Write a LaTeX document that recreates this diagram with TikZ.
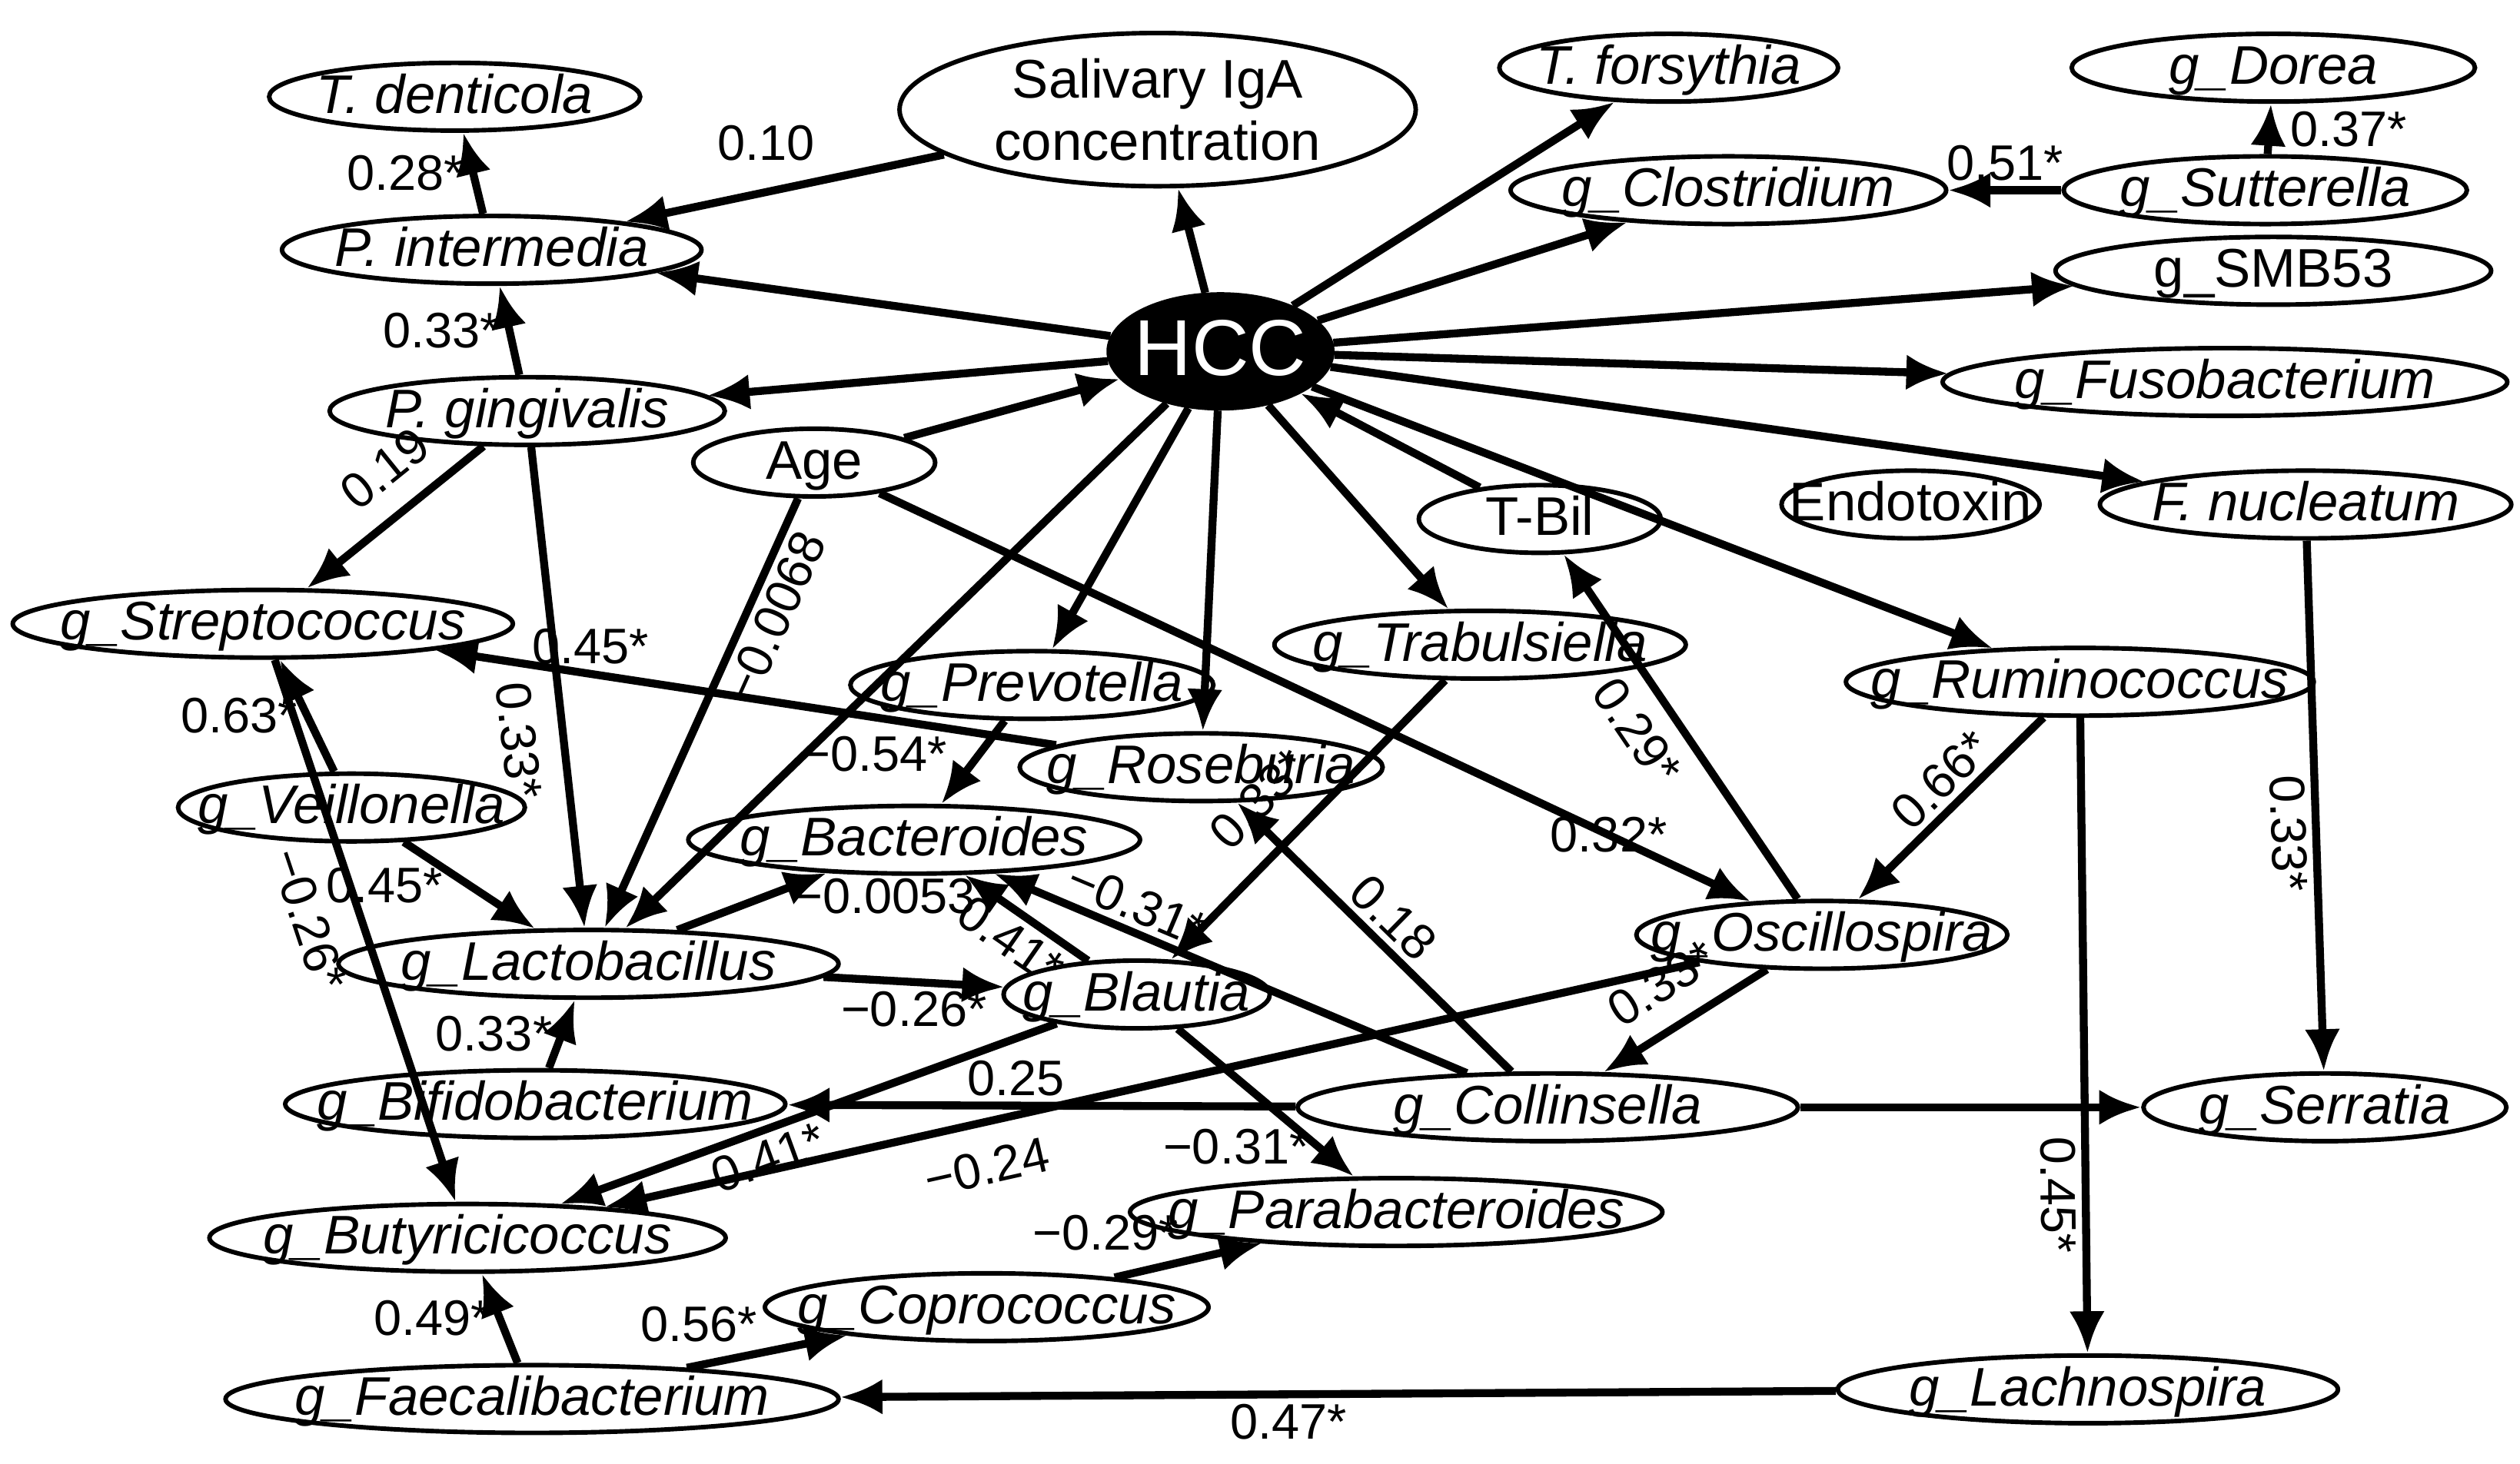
\documentclass[tikz,border=0pt]{standalone}
\usepackage{fontspec}
\setmainfont{Liberation Sans}
\usetikzlibrary{shapes.geometric, arrows.meta, positioning}
\newcommand{\ctr}[1]{\makebox[0pt]{\raisebox{-0.3em}[0pt][0pt]{#1}}}

\begin{document}
\begin{tikzpicture}[x=0.01cm, y=-0.01cm,
            % Styles
            taxon/.style={ellipse, draw=black, thick, inner sep=0pt, minimum height=0.42cm, font=\fontsize{9.6}{11}\selectfont\itshape},
            factor/.style={ellipse, draw=black, thick, inner sep=0pt, minimum height=0.42cm, font=\fontsize{9.6}{11}\selectfont},
            hub/.style={ellipse, draw=black, fill=black, text=white, inner sep=0pt, minimum width=1.4cm, minimum height=0.72cm, font=\fontsize{14}{16}\selectfont},
            line/.style={draw, -{Latex[length=2.6mm, width=2.2mm]}, line width=1.4pt},
            lab/.style={font=\fontsize{8.8}{10}\selectfont, inner sep=1pt}
        ]
        \useasboundingbox (0,0) rectangle (1563,908);

        % Nodes
        \node [hub] (hcc) at (757,218) {\ctr{HCC}};
        \node [taxon, minimum width=2.3cm] (tden) at (282,60) {\ctr{T. denticola}};
        \node [factor, minimum width=3.2cm, minimum height=0.95cm, align=center] (siga) at (718,68) {Salivary IgA\\concentration};
        \node [taxon, minimum width=2.1cm] (tfor) at (1035,42) {\ctr{T. forsythia}};
        \node [taxon, minimum width=2.5cm] (dorea) at (1410,42) {\ctr{g\_Dorea}};
        \node [taxon, minimum width=2.7cm] (clos) at (1072,118) {\ctr{g\_Clostridium}};
        \node [taxon, minimum width=2.5cm] (sutt) at (1405,118) {\ctr{g\_Sutterella}};
        \node [taxon, minimum width=2.6cm] (pint) at (305,155) {\ctr{P. intermedia}};
        \node [factor, minimum width=2.7cm] (smb) at (1410,168) {\ctr{g\_SMB53}};
        \node [taxon, minimum width=2.45cm] (pgin) at (327,255) {\ctr{P. gingivalis}};
        \node [taxon, minimum width=3.5cm] (fuso) at (1380,237) {\ctr{g\_Fusobacterium}};
        \node [factor, minimum width=1.5cm] (age) at (505,287) {\ctr{Age}};
        \node [factor, minimum width=1.5cm] (tbil) at (955,322) {\ctr{T-Bil}};
        \node [factor, minimum width=1.6cm] (endo) at (1185,313) {\ctr{Endotoxin}};
        \node [taxon, minimum width=2.55cm] (fnuc) at (1430,313) {\ctr{F. nucleatum}};
        \node [taxon, minimum width=3.1cm] (strep) at (163,387) {\ctr{g\_Streptococcus}};
        \node [taxon, minimum width=2.55cm] (trab) at (918,400) {\ctr{g\_Trabulsiella}};
        \node [taxon, minimum width=2.25cm] (prev) at (640,425) {\ctr{g\_Prevotella}};
        \node [taxon, minimum width=2.9cm] (rumi) at (1290,423) {\ctr{g\_Ruminococcus}};
        \node [taxon, minimum width=2.25cm] (rose) at (745,476) {\ctr{g\_Roseburia}};
        \node [taxon, minimum width=2.15cm] (veil) at (218,501) {\ctr{g\_Veillonella}};
        \node [taxon, minimum width=2.8cm] (bact) at (567,521) {\ctr{g\_Bacteroides}};
        \node [taxon, minimum width=2.3cm] (osci) at (1130,580) {\ctr{g\_Oscillospira}};
        \node [taxon, minimum width=3.1cm] (lact) at (365,598) {\ctr{g\_Lactobacillus}};
        \node [taxon, minimum width=1.65cm] (blau) at (705,617) {\ctr{g\_Blautia}};
        \node [taxon, minimum width=3.1cm] (bifi) at (332,685) {\ctr{g\_Bifidobacterium}};
        \node [taxon, minimum width=3.1cm] (coll) at (960,687) {\ctr{g\_Collinsella}};
        \node [taxon, minimum width=2.25cm] (serr) at (1442,687) {\ctr{g\_Serratia}};
        \node [taxon, minimum width=3.3cm] (para) at (866,752) {\ctr{g\_Parabacteroides}};
        \node [taxon, minimum width=3.2cm] (buty) at (290,768) {\ctr{g\_Butyricicoccus}};
        \node [taxon, minimum width=2.75cm] (copr) at (612,811) {\ctr{g\_Coprococcus}};
        \node [taxon, minimum width=3.8cm] (faec) at (330,868) {\ctr{g\_Faecalibacterium}};
        \node [taxon, minimum width=3.1cm] (lach) at (1295,862) {\ctr{g\_Lachnospira}};

        % Edges from HCC
        \path [line] (hcc) -- (siga);
        \path [line] (hcc) -- (tfor);
        \path [line] (hcc) -- (clos);
        \path [line] (hcc) -- (pint);
        \path [line] (hcc) -- (smb);
        \path [line] (hcc) -- (pgin);
        \path [line] (hcc) -- (fuso);
        \path [line] (hcc) -- (fnuc);
        \path [line] (hcc) -- (lact);
        \path [line] (hcc) -- (prev);
        \path [line] (hcc) -- (rose);
        \path [line] (hcc) -- (trab);
        \path [line] (hcc) -- (rumi);
        \path [line] (age) -- (hcc);
        \path [line] (tbil) -- (hcc);

        % Other edges
        \path [line] (pint) -- node[lab, left] {0.28*} (tden);
        \path [line] (siga) -- node[lab, pos=0.35, above left=2pt] {0.10} (pint);
        \path [line] (sutt) -- node[lab, above] {0.51*} (clos);
        \path [line] (sutt) -- node[lab, right=2pt] {0.37*} (dorea);
        \path [line] (pgin) -- node[lab, left] {0.33*} (pint);
        \path [line] (pgin) -- node[lab, sloped, above=3pt, pos=0.4] {0.19} (strep);
        \path [line] (pgin) -- node[lab, sloped, below=3pt, pos=0.6] {0.33*} (lact);
        \path [line] (age) -- node[lab, sloped, below, pos=0.25] {−0.0068} (lact);
        \path [line] (age) -- node[lab, pos=0.75, below right=2pt] {0.32*} (osci);
        \path [line] (rose) -- node[lab, pos=0.75, above] {0.45*} (strep);
        \path [line] (veil) -- node[lab, left] {0.63*} (strep);
        \path [line] (veil) -- node[lab, left=3pt] {0.45*} (lact);
        \path [line] (strep) -- node[lab, sloped, below=4pt, pos=0.45] {−0.26*} (buty);
        \path [line] (prev) -- node[lab, left=4pt, pos=0.4] {−0.54*} (bact);
        \path [line] (lact) -- node[lab, right=3pt, pos=0.6] {−0.0053} (bact);
        \path [line] (lact) -- node[lab, below, pos=0.5] {−0.26*} (blau);
        \path [line] (blau) -- node[lab, sloped, below, pos=0.5] {0.41*} (bact);
        \path [line] (coll) -- node[lab, sloped, above, pos=0.72] {−0.31*} (bact);
        \path [line] (coll) -- node[lab, sloped, above, pos=0.5] {0.18} (rose);
        \path [line] (trab) -- node[lab, sloped, above=4pt, pos=0.55] {0.33*} (blau);
        \path [line] (osci) -- node[lab, sloped, below=2pt, pos=0.55] {0.29*} (tbil);
        \path [line] (rumi) -- node[lab, sloped, above, pos=0.45] {0.66*} (osci);
        \path [line] (rumi) -- node[lab, sloped, below, pos=0.75] {0.45*} (lach);
        \path [line] (fnuc) -- node[lab, sloped, below, pos=0.55] {0.33*} (serr);
        \path [line] (osci) -- node[lab, sloped, above=3pt, pos=0.5] {0.33*} (coll);
        \path [line] (bifi) -- node[lab, left] {0.33*} (lact);
        \path [line] (coll) -- node[lab, above, pos=0.55] {0.25} (bifi);
        \path [line] (coll) -- (serr);
        \path [line] (blau) -- node[lab, sloped, below, pos=0.6] {0.41*} (buty);
        \path [line] (osci) -- node[lab, sloped, below=3pt, pos=0.66] {−0.24} (buty);
        \path [line] (blau) -- node[lab, left, pos=0.8] {−0.31*} (para);
        \path [line] (copr) -- node[lab, above left, pos=0.5] {−0.29*} (para);
        \path [line] (faec) -- node[lab, above left, pos=0.5] {0.56*} (copr);
        \path [line] (faec) -- node[lab, left] {0.49*} (buty);
        \path [line] (lach) -- node[lab, below, pos=0.55] {0.47*} (faec);

    \end{tikzpicture}
\end{document}
